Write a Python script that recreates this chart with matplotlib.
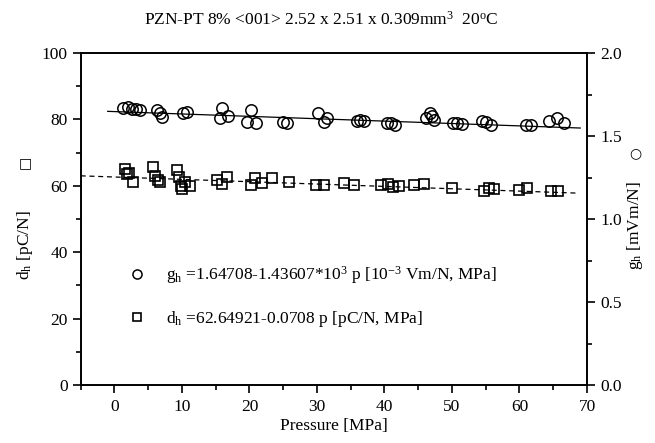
import numpy as np
import matplotlib
matplotlib.use('Agg')
import matplotlib.pyplot as plt
from matplotlib.ticker import MultipleLocator

plt.rcParams['font.family'] = ['Liberation Serif', 'DejaVu Sans']
plt.rcParams['mathtext.fontset'] = 'custom'
plt.rcParams['mathtext.rm'] = 'Liberation Serif'
plt.rcParams['mathtext.it'] = 'Liberation Serif:italic'
plt.rcParams['font.size'] = 12.5

# g_h data (mVm/N) vs pressure (MPa)
p_g = [1.3, 2.0, 2.6, 3.2, 3.8, 6.3, 7.0, 6.8, 10.1, 10.7, 15.6, 15.9, 16.8,
       19.7, 20.3, 21.0, 25.0, 25.6, 30.2, 31.0, 31.5, 35.9, 36.4, 36.9,
       40.3, 41.0, 41.5, 46.2, 46.7, 47.1, 47.4, 50.1, 50.8, 51.5, 54.5,
       55.0, 55.8, 61.0, 61.7, 64.4, 65.6, 66.6]
g_h = [1.668, 1.672, 1.660, 1.664, 1.656, 1.656, 1.614, 1.640, 1.638, 1.644,
       1.608, 1.668, 1.620, 1.584, 1.656, 1.578, 1.584, 1.578, 1.638, 1.584,
       1.610, 1.592, 1.596, 1.592, 1.578, 1.580, 1.566, 1.608, 1.638, 1.620,
       1.596, 1.578, 1.578, 1.572, 1.590, 1.584, 1.566, 1.566, 1.568, 1.590,
       1.608, 1.578]

# d_h data (pC/N) vs pressure (MPa)
p_d = [1.5, 1.8, 2.2, 2.7, 5.7, 6.0, 6.5, 6.8, 9.2, 9.5, 9.8, 10.0, 10.5,
       11.2, 15.2, 16.0, 16.6, 20.3, 20.8, 21.8, 23.3, 25.8, 29.9, 31.1,
       34.0, 35.5, 39.5, 40.5, 41.3, 42.2, 44.4, 45.9, 50.0, 54.7, 55.5,
       56.2, 59.9, 61.1, 64.7, 65.7]
d_h = [65.0, 63.5, 64.0, 61.1, 65.7, 63.0, 61.7, 61.0, 64.8, 62.5, 60.0,
       59.0, 61.0, 60.0, 61.8, 60.5, 62.7, 60.2, 62.3, 60.8, 62.3, 61.0,
       60.2, 60.2, 60.8, 60.2, 60.2, 60.5, 59.6, 59.8, 60.2, 60.4, 59.3,
       58.4, 59.3, 59.0, 58.7, 59.3, 58.4, 58.4]

# linear fits quoted on the chart
g_fit = (1.64708, -1.43607e-3)
d_fit = (62.64921, -0.0708)
g_fit_range = np.array([-1.0, 69.0])
d_fit_range = np.array([-5.0, 68.5])


def main():
    fig = plt.figure(figsize=(6.55, 4.43), dpi=100)
    ax = fig.add_axes([80.7/655, 1-385/443, (587-80.7)/655, (385-53)/443])
    ax2 = ax.twinx()

    ax.plot(d_fit_range, d_fit[0] + d_fit[1]*d_fit_range, color='k', lw=0.9, ls=(0, (4, 3)))
    sq = ax.plot(p_d, d_h, ls='', marker='s', ms=7.3, mfc='none', mec='k', mew=1.2)[0]
    ax2.plot(g_fit_range, g_fit[0] + g_fit[1]*g_fit_range, color='k', lw=0.9)
    ci = ax2.plot(p_g, g_h, ls='', marker='o', ms=8.2, mfc='none', mec='k', mew=1.1)[0]

    ax.set_xlim(-5, 70)
    ax.set_ylim(0, 100)
    ax2.set_ylim(0, 2.0)
    ax.xaxis.set_major_locator(MultipleLocator(10))
    ax.xaxis.set_minor_locator(MultipleLocator(5))
    ax.yaxis.set_major_locator(MultipleLocator(20))
    ax.yaxis.set_minor_locator(MultipleLocator(10))
    ax2.yaxis.set_major_locator(MultipleLocator(0.5))
    ax2.yaxis.set_minor_locator(MultipleLocator(0.25))
    ax2.yaxis.set_major_formatter(matplotlib.ticker.FormatStrFormatter('%.1f'))
    for a in (ax, ax2):
        a.tick_params(which='major', direction='out', length=6, width=1.2, labelsize=12.5)
        a.tick_params(which='minor', direction='out', length=3.5, width=1.2)
        for s in a.spines.values():
            s.set_linewidth(1.2)
    ax.tick_params(axis='x', pad=4)

    ax.set_xlabel('Pressure [MPa]', labelpad=2)
    ax.set_ylabel('d$_\\mathrm{h}$ [pC/N]', va='center')
    ax.yaxis.set_label_coords(-0.11, 0.42)
    ax2.set_ylabel('g$_\\mathrm{h}$ [mVm/N]', rotation=90, va='center')
    ax2.yaxis.set_label_coords(1.095, 0.48)
    # symbols next to the axis titles
    ax.text(-0.11, 0.669, '\u25a1', transform=ax.transAxes, ha='center', va='center',
            fontsize=10, family='DejaVu Sans')
    ax.text(1.095, 0.699, '\u25cb', transform=ax.transAxes, ha='center', va='center',
            fontsize=10, family='DejaVu Sans')

    fig.text(321/655, 1-20/443, 'PZN-PT 8% <001> 2.52 x 2.51 x 0.309mm$^3$  20$^\\mathrm{o}$C',
             ha='center', va='center', fontsize=12.5)

    leg = ax.legend([ci, sq],
                    ['g$_\\mathrm{h}$ =1.64708-1.43607*10$^3$ p [10$^{-3}$ Vm/N, MPa]',
                     'd$_\\mathrm{h}$ =62.64921-0.0708 p [pC/N, MPa]'],
                    loc='upper left', bbox_to_anchor=(0.08, 0.385), frameon=False,
                    handlelength=1.0, handletextpad=1.2, labelspacing=1.3,
                    markerscale=0.8, borderaxespad=0, fontsize=12.5)

    fig.savefig('out.png', dpi=100)


if __name__ == '__main__':
    main()
